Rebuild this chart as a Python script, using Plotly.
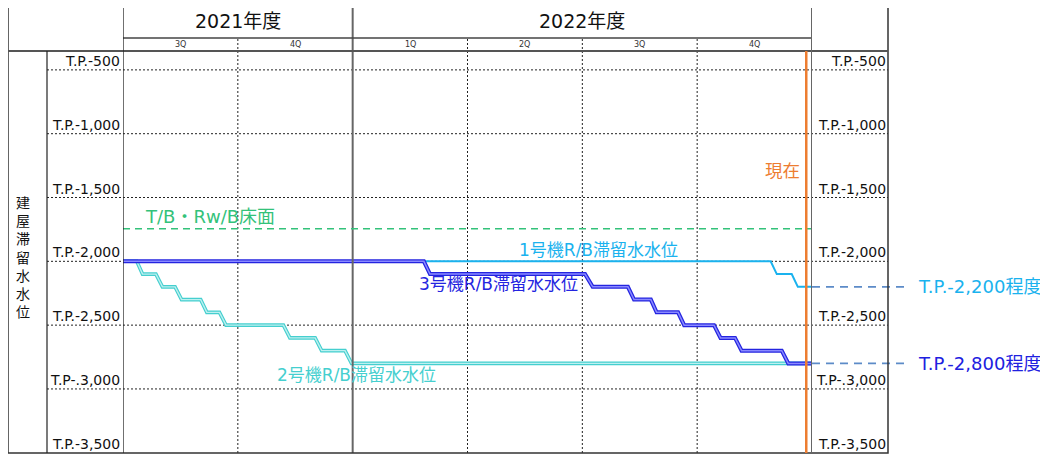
import plotly.graph_objects as go

# page body has an 8px margin; the figure is drawn 8px in from the window edge
OFF = 8
W, H = 1048 - OFF, 455 - OFF

# ---------------- data (x = months since start of FY2021 3Q) ----------------
UNIT1_X = [0, 16.92, 17.08, 17.47, 17.63, 18]
UNIT1_Y = [-2000, -2000, -2100, -2100, -2200, -2200]

UNIT2_X = [0, 0.36, 0.51, 0.86, 1.03, 1.36, 1.53, 2.03, 2.19, 2.52, 2.69,
           4.19, 4.36, 5.02, 5.19, 5.80, 5.97, 18]
UNIT2_Y = [-2000, -2000, -2100, -2100, -2200, -2200, -2300, -2300, -2400,
           -2400, -2500, -2500, -2600, -2600, -2700, -2700, -2800, -2800]

UNIT3_X = [0, 7.86, 8.02, 12.07, 12.27, 13.19, 13.35, 13.79, 13.94, 14.50,
           14.66, 15.44, 15.61, 15.99, 16.16, 17.21, 17.38, 18]
UNIT3_Y = [-2000, -2000, -2100, -2100, -2200, -2200, -2300, -2300, -2400,
           -2400, -2500, -2500, -2600, -2600, -2700, -2700, -2800, -2800]

FLOOR_LEVEL = -1745
NOW_X = 17.85
TARGET_LEVELS = [-2200, -2800]
TARGET_LABELS = ["T.P.-2,200程度", "T.P.-2,800程度"]

TICK_VALUES = [-500, -1000, -1500, -2000, -2500, -3000, -3500]
TICK_LABELS = ["T.P.-500", "T.P.-1,000", "T.P.-1,500", "T.P.-2,000",
               "T.P.-2,500", "T.P-.3,000", "T.P.-3,500"]

QUARTER_BOUNDS = [0, 3, 6, 9, 12, 15, 18]
QUARTER_LABELS = ["3Q", "4Q", "1Q", "2Q", "3Q", "4Q"]
YEAR_LABELS = ["2021年度", "2022年度"]
YEAR_BOUNDS = [0, 6, 18]
TITLE = "建屋滞留水水位"

# ---------------- styling ----------------
FONT = "DejaVu Sans, Noto Sans CJK JP, sans-serif"
C1 = "#1AB2EE"
C2_OUT, C2_IN = "#45CFCF", "#BDF0F0"
C3_OUT, C3_IN = "#2424E0", "#8A8AFF"
GREEN = "#33C27A"
ORANGE = "#ED7D31"
EXT = "#5C8BC8"

Y_RANGE = [-3502, -352]


def px(x):
    return (x - OFF) / W


def py(y):
    return 1 - (y - OFF) / H


fig = go.Figure()

fig.add_trace(go.Scatter(x=UNIT2_X, y=UNIT2_Y, mode="lines",
                         line=dict(color=C2_OUT, width=3.6), hoverinfo="skip"))
fig.add_trace(go.Scatter(x=UNIT2_X, y=UNIT2_Y, mode="lines",
                         line=dict(color=C2_IN, width=1.4), hoverinfo="skip"))
fig.add_trace(go.Scatter(x=UNIT1_X, y=UNIT1_Y, mode="lines",
                         line=dict(color=C1, width=2), hoverinfo="skip"))
fig.add_trace(go.Scatter(x=UNIT3_X, y=UNIT3_Y, mode="lines",
                         line=dict(color=C3_OUT, width=4), hoverinfo="skip"))
fig.add_trace(go.Scatter(x=UNIT3_X, y=UNIT3_Y, mode="lines",
                         line=dict(color=C3_IN, width=1.5), hoverinfo="skip"))

shapes = []
annotations = []

# horizontal dotted gridlines across label columns
for v in TICK_VALUES[:-1]:
    shapes.append(dict(type="line", xref="paper", yref="y", x0=px(47), x1=px(888),
                       y0=v, y1=v, line=dict(color="#222", width=1, dash="2px,2px"),
                       layer="below"))

# vertical quarter lines (dotted) and fiscal-year boundary (solid)
for b in QUARTER_BOUNDS[1:-1]:
    if b in YEAR_BOUNDS:
        shapes.append(dict(type="line", xref="x", yref="paper", x0=b, x1=b,
                           y0=py(453), y1=py(6), line=dict(color="#666", width=2)))
    else:
        shapes.append(dict(type="line", xref="x", yref="paper", x0=b, x1=b,
                           y0=py(453), y1=py(38),
                           line=dict(color="#222", width=1, dash="2px,2px"),
                           layer="below"))

# floor level (green dashed)
shapes.append(dict(type="line", xref="x", yref="y", x0=0, x1=18,
                   y0=FLOOR_LEVEL, y1=FLOOR_LEVEL,
                   line=dict(color=GREEN, width=1.5, dash="7px,5px")))

# target extension lines
for lv in TARGET_LEVELS:
    shapes.append(dict(type="line", xref="paper", yref="y", x0=px(812), x1=px(909),
                       y0=lv, y1=lv, line=dict(color=EXT, width=1.8, dash="8px,6px")))

# table frame
shapes.append(dict(type="rect", xref="paper", yref="paper", x0=px(8), x1=px(888),
                   y0=py(453), y1=py(6), line=dict(color="#333", width=1.5)))
shapes.append(dict(type="line", xref="paper", yref="paper", x0=px(123), x1=px(812),
                   y0=py(38), y1=py(38), line=dict(color="#444", width=1.5)))
shapes.append(dict(type="line", xref="paper", yref="paper", x0=px(8), x1=px(888),
                   y0=py(51), y1=py(51), line=dict(color="#555", width=2)))
shapes.append(dict(type="line", xref="paper", yref="paper", x0=px(47), x1=px(47),
                   y0=py(453), y1=py(51), line=dict(color="#222", width=1.2)))
shapes.append(dict(type="line", xref="x", yref="paper", x0=0, x1=0,
                   y0=py(453), y1=py(6), line=dict(color="#222", width=1.3)))
shapes.append(dict(type="line", xref="x", yref="paper", x0=18, x1=18,
                   y0=py(453), y1=py(6), line=dict(color="#666", width=2)))

# current line (orange)
shapes.append(dict(type="line", xref="x", yref="paper", x0=NOW_X, x1=NOW_X,
                   y0=py(453), y1=py(51), line=dict(color=ORANGE, width=2.5)))

# tick labels on both sides
for v, t in zip(TICK_VALUES, TICK_LABELS):
    for xr in (122, 888):
        annotations.append(dict(xref="paper", yref="y", x=px(xr), y=v, text=t,
                                showarrow=False, xanchor="right", yanchor="bottom",
                                yshift=-1, font=dict(family=FONT, size=14, color="#111")))

# year labels
for i, t in enumerate(YEAR_LABELS):
    annotations.append(dict(xref="x", yref="paper",
                            x=(YEAR_BOUNDS[i] + YEAR_BOUNDS[i + 1]) / 2, y=py(21),
                            text=t, showarrow=False, yanchor="middle",
                            font=dict(family=FONT, size=19, color="#111")))
# quarter labels
for i, t in enumerate(QUARTER_LABELS):
    annotations.append(dict(xref="x", yref="paper",
                            x=(QUARTER_BOUNDS[i] + QUARTER_BOUNDS[i + 1]) / 2, y=py(44.5),
                            text=t, showarrow=False, yanchor="middle",
                            font=dict(family=FONT, size=8, color="#333")))

# vertical title
annotations.append(dict(xref="paper", yref="paper", x=px(23), y=py(256.7),
                        text="<br>".join(TITLE), showarrow=False,
                        xanchor="center", yanchor="middle",
                        font=dict(family="Noto Sans CJK JP", size=14, color="#111")))

# series labels
annotations += [
    dict(xref="x", yref="y", x=0.52, y=-1648, text="T/B・Rw/B床面", xanchor="left",
         showarrow=False, font=dict(family=FONT, size=18, color=GREEN)),
    dict(xref="x", yref="y", x=12.41, y=-1914, text="1号機R/B滞留水水位",
         showarrow=False, font=dict(family=FONT, size=17, color=C1)),
    dict(xref="x", yref="y", x=9.80, y=-2180, text="3号機R/B滞留水水位",
         showarrow=False, font=dict(family=FONT, size=17, color=C3_OUT)),
    dict(xref="x", yref="y", x=6.11, y=-2891, text="2号機R/B滞留水水位",
         showarrow=False, font=dict(family=FONT, size=17, color=C2_OUT)),
    dict(xref="x", yref="y", x=17.74, y=-1281, text="現在", xanchor="right",
         showarrow=False, font=dict(family="Noto Sans CJK JP", size=17.5, color=ORANGE)),
]
for lv, t, c in zip(TARGET_LEVELS, TARGET_LABELS, [C1, "#2020E0"]):
    annotations.append(dict(xref="paper", yref="y", x=px(916), y=lv, text=t,
                            xanchor="left", yanchor="middle", showarrow=False,
                            font=dict(family=FONT, size=18, color=c)))

fig.update_layout(
    width=W, height=H,
    margin=dict(l=0, r=0, t=0, b=0),
    paper_bgcolor="white", plot_bgcolor="white",
    showlegend=False,
    xaxis=dict(domain=[px(123), px(812)], range=[0, 18], visible=False, fixedrange=True),
    yaxis=dict(domain=[py(453), py(51)], range=Y_RANGE, visible=False,
               fixedrange=True),
    shapes=shapes,
    annotations=annotations,
)

fig.write_html("out.html", config={"displayModeBar": False})
